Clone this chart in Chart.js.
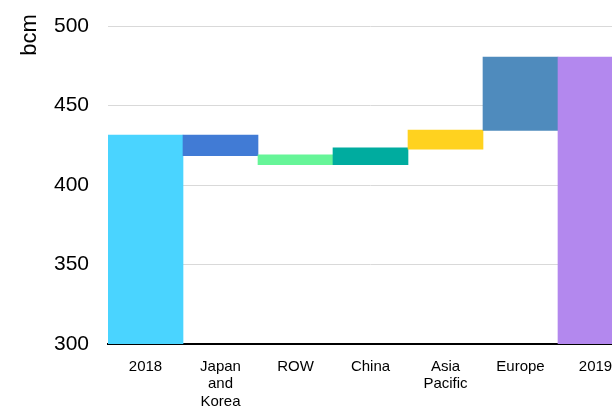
<!doctype html>
<html lang="en">
  <head>
    <meta charset="utf-8">
    <title>Gas demand change 2018-2019</title>
    <style>
      * {
        margin: 0;
        padding: 0;
      }
      body {
        width: 612px;
        height: 412px;
        overflow: hidden;
        background: #fff;
      }
      .chartBox {
        width: 633px;
        height: 412px;
      }
    </style>
  </head>
  <body>
    <div class="chartBox">
      <canvas id="myChart"></canvas>
    </div>
    <script src="https://cdn.jsdelivr.net/npm/chart.js"></script>
    <script>
    // data
    const categories = ['2018', ['Japan', 'and', 'Korea'], 'ROW', 'China', ['Asia', 'Pacific'], 'Europe', '2019'];
    const barStart = [0, 418.4, 412.8, 412.8, 422.6, 434.4, 0];
    const barEnd = [431.4, 431.4, 418.9, 423.3, 434.6, 480.5, 480.5];
    const barColors = ['#4AD4FF', '#417BD5', '#66F598', '#00AC9F', '#FFD21F', '#4F8BBD', '#B388EE'];
    const yTicks = [300, 350, 400, 450, 500];

    const fontFamily = '"Liberation Sans", Arial, sans-serif';

    // rotated unit label at the top left
    const bcmTitle = {
      id: 'bcmTitle',
      afterDraw(chart) {
        const ctx = chart.ctx;
        ctx.save();
        ctx.translate(30, 35);
        ctx.rotate(-Math.PI / 2);
        ctx.font = '22px ' + fontFamily;
        ctx.fillStyle = '#000';
        ctx.textAlign = 'center';
        ctx.textBaseline = 'middle';
        ctx.fillText('bcm', 0, 0);
        ctx.restore();
      }
    };

    const data = {
      labels: categories,
      datasets: [{
        data: barStart.map((s, i) => [s, barEnd[i]]),
        backgroundColor: barColors,
        borderWidth: 0,
        barPercentage: 1,
        categoryPercentage: 1
      }]
    };

    // config
    const config = {
      type: 'bar',
      data,
      options: {
        responsive: true,
        maintainAspectRatio: false,
        animation: false,
        layout: {
          padding: { top: 26, left: 0, right: 0, bottom: 0 }
        },
        plugins: {
          legend: { display: false },
          tooltip: { enabled: false }
        },
        scales: {
          x: {
            z: 1,
            grid: { display: false, drawTicks: false },
            border: { display: true, color: '#000', width: 2 },
            ticks: {
              color: '#000',
              padding: 14,
              maxRotation: 0,
              autoSkip: false,
              font: { family: fontFamily, size: 15, lineHeight: 1.17 }
            },
            afterFit(scale) { scale.height = 68; }
          },
          y: {
            min: 300,
            max: 500,
            afterBuildTicks(scale) {
              scale.ticks = yTicks.map(v => ({ value: v }));
            },
            grid: { color: '#d9d9d9', lineWidth: 1, drawTicks: false },
            border: { display: false },
            ticks: {
              color: '#000',
              padding: 19,
              font: { family: fontFamily, size: 21 }
            },
            afterFit(scale) {
              scale.width = 108;
              scale.paddingTop = 0;
              scale.paddingBottom = 0;
            }
          }
        }
      },
      plugins: [bcmTitle]
    };

    // render init block
    const myChart = new Chart(
      document.getElementById('myChart'),
      config
    );
    </script>
  </body>
</html>
